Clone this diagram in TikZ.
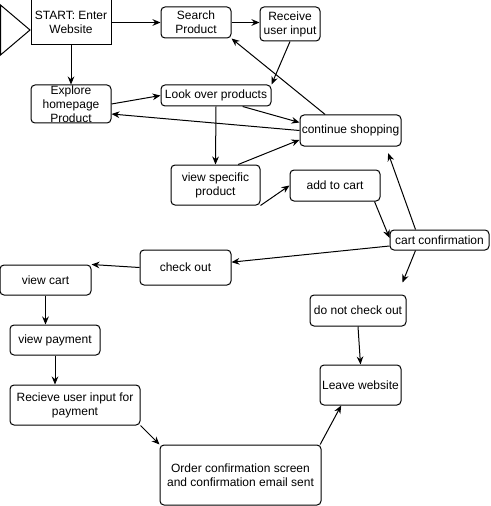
\documentclass[tikz,border=0pt]{standalone}
\usepackage{fontspec}
\setmainfont{Liberation Sans}
\usepackage{tikz}
\usetikzlibrary{arrows.meta, calc}

\begin{document}
\begin{tikzpicture}[x=0.75pt, y=-0.75pt, line width=0.75pt,
  every node/.style={font=\fontsize{9}{10.5}\selectfont, align=center, inner sep=1pt},
  stepbox/.style={draw, rectangle, rounded corners=3pt},
  flow/.style={-{Stealth[length=6pt, width=5pt]}}]
  \useasboundingbox (0,0) rectangle (491,506);

  % Start marker
  \draw (0.5,5) -- (30,30) -- (0.5,55) -- cycle;

  % Steps
  \node[draw, rectangle, minimum width=60pt, minimum height=33.75pt] (start) at (71,22.5) {START: Enter\\Website};
  \node[stepbox, minimum width=52.5pt, minimum height=23.25pt] (search) at (196,22.5) {Search\\Product};
  \node[stepbox, minimum width=45pt, minimum height=25.5pt] (receive) at (290,24) {Receive\\user input};
  \node[stepbox, minimum width=60pt, minimum height=28.5pt, inner ysep=0pt] (explore) at (71,104) {Explore\\homepage\\Product};
  \node[stepbox, minimum width=82.5pt, minimum height=15.75pt] (look) at (216,95.5) {Look over products};
  \node[stepbox, minimum width=75.75pt, minimum height=23.25pt] (contshop) at (350.5,130.5) {continue shopping};
  \node[stepbox, minimum width=66.75pt, minimum height=30pt] (viewspec) at (215.5,185) {view specific\\product};
  \node[stepbox, minimum width=67.5pt, minimum height=23.25pt] (addcart) at (335,185.5) {add to cart};
  \node[stepbox, minimum width=74.25pt, minimum height=15pt] (cartconf) at (439.5,240) {cart confirmation};
  \node[stepbox, minimum width=68.25pt, minimum height=26.25pt] (checkout) at (185.5,267.5) {check out};
  \node[stepbox, minimum width=68.25pt, minimum height=22.5pt] (viewcart) at (45.5,280) {view cart};
  \node[stepbox, minimum width=67.5pt, minimum height=22.5pt] (viewpay) at (55,340) {view payment};
  \node[stepbox, minimum width=97.5pt, minimum height=30pt] (recvpay) at (75,405) {Recieve user input for\\payment};
  \node[stepbox, minimum width=120.75pt, minimum height=45pt] (order) at (240.5,475) {Order confirmation screen\\and confirmation email sent};
  \node[stepbox, minimum width=72pt, minimum height=23.25pt] (nocheck) at (358,310.5) {do not check out};
  \node[stepbox, minimum width=60.75pt, minimum height=30pt] (leave) at (360.5,385) {Leave website};

  % Flow
  \draw[flow] (start.east) -- (search.west);
  \draw[flow] (start.south) -- (explore.north);
  \draw[flow] (search.east) -- (receive.west |- search.east);
  \draw[flow] (receive.south) -- (look.north east);
  \draw[flow] (explore.east) -- (look.west);
  \draw[flow] ([xshift=-19pt]contshop.north) -- (search.south east);
  \draw[flow] ([xshift=20pt]look.south) -- ([yshift=6pt]contshop.west);
  \draw[flow] (contshop.west) -- ([yshift=-7.5pt]explore.east);
  \draw[flow] (look.south) -- (viewspec.north);
  \draw[flow] ([xshift=17pt]viewspec.north) -- ([yshift=-7pt]contshop.west);
  \draw[flow] (viewspec.south east) -- (addcart.west);
  \draw[flow] ([xshift=-4.5pt]addcart.south east) -- ([yshift=1.5pt]cartconf.west);
  \draw[flow] ([xshift=-18pt]cartconf.north) -- ([xshift=-10pt,yshift=-5pt]contshop.south east);
  \draw[flow] ([yshift=-4.5pt]cartconf.west) -- ([yshift=4pt]checkout.east);
  \draw[flow] ([xshift=-18pt]cartconf.south) -- ([xshift=-3pt,yshift=9pt]nocheck.north east);
  \draw[flow] (checkout.west) -- (viewcart.north east);
  \draw[flow] (viewcart.south) -- (viewcart.south |- viewpay.north);
  \draw[flow] (viewpay.south) -- (viewpay.south |- recvpay.north);
  \draw[flow] (recvpay.south east) -- (order.north west);
  \draw[flow] (nocheck.south) -- (leave.north);
  \draw[flow] ([xshift=-1pt]order.north east) -- ([xshift=-14.5pt]leave.south);
\end{tikzpicture}
\end{document}
